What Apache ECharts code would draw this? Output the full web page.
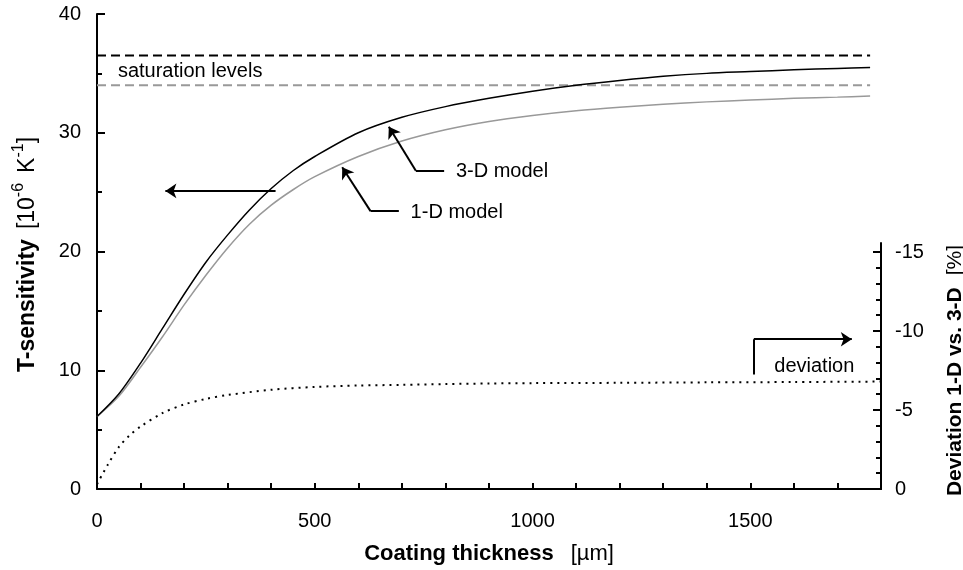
<!DOCTYPE html>
<html><head><meta charset="utf-8">
<script src="https://cdn.jsdelivr.net/npm/echarts@6/dist/echarts.min.js"></script>
<style>html,body{margin:0;padding:0;background:#fff}#c{width:963px;height:570px}</style>
</head><body><div id="c"></div>
<script>
// ---- data ----
const thickness = [0,50,100,150,200,250,300,350,400,450,500,600,700,800,900,1000,1100,1200,1300,1400,1500,1600,1700,1775];
const model3D   = [6.1,8.0,10.6,13.5,16.4,19.1,21.4,23.5,25.3,26.8,28.0,30.0,31.3,32.2,32.9,33.5,34.0,34.4,34.75,35.0,35.15,35.3,35.42,35.5];
const model1D   = [6.1,7.8,10.25,12.8,15.5,18.0,20.3,22.3,23.9,25.2,26.3,28.0,29.3,30.25,30.95,31.45,31.85,32.15,32.4,32.6,32.75,32.9,33.0,33.1];
const devThickness = [0,25,50,75,100,150,200,250,300,400,500,600,700,800,900,1000,1200,1400,1600,1800];
const deviation    = [-0.3,-1.55,-2.65,-3.4,-3.95,-4.8,-5.35,-5.7,-5.95,-6.28,-6.46,-6.55,-6.59,-6.64,-6.68,-6.7,-6.72,-6.75,-6.77,-6.8];
const saturationX  = [0, 1775];
const saturation3D = 36.5;
const saturation1D = 34.0;
const xTickLabels  = [0, 500, 1000, 1500];
const yLeftTicks   = [0, 10, 20, 30, 40];
const yRightTicks  = [0, -5, -10, -15];

// annotation anchors (data coordinates)
const leftArrow   = [[410, 25.1], [157, 25.1]];
const arrow3D     = [[797, 26.8], [732, 26.8], [670, 30.5]];
const arrow1D     = [[693, 23.4], [628, 23.4], [563, 27.1]];
const devArrow    = [[1508, -7.25], [1508, -9.48], [1733, -9.48]];
const label3D     = [824, 26.72];
const label1D     = [720, 23.27];
const labelSat    = [48, 35.14];
const labelDev    = [1555, -7.74];

const FONT = 'Liberation Sans, Arial, sans-serif';
const BLACK = '#000';
const GRAY = '#999';

function pairs(xs, ys) { return xs.map((x, i) => [x, ys[i]]); }
function textPoint(coord, text) {
  return { coord: coord, symbol: 'circle', symbolSize: 0,
    label: { show: true, position: 'right', distance: 0, formatter: text, color: BLACK, fontSize: 20, fontFamily: FONT } };
}
function seg(a, b, arrow) {
  return [{ coord: a, symbol: 'none' }, { coord: b, symbol: arrow ? 'arrow' : 'none' }];
}
const mlBase = { silent: true, symbolSize: 11, label: { show: false },
  lineStyle: { color: BLACK, width: 2, type: 'solid' }, emphasis: { disabled: true } };
const gridBase = { left: 97, right: 82, bottom: 81, containLabel: false, outerBoundsMode: 'none' };
const lineAxis = { show: true, onZero: false, lineStyle: { color: BLACK, width: 2 } };

const chart = echarts.init(document.getElementById('c'), null, { renderer: 'canvas' });
chart.setOption({
  animation: false,
  backgroundColor: '#fff',
  textStyle: { fontFamily: FONT, color: BLACK },
  grid: [
    Object.assign({ top: 14 }, gridBase),
    Object.assign({ top: 243 }, gridBase),
    Object.assign({ top: 252 }, gridBase)
  ],
  xAxis: [
    { gridIndex: 0, type: 'value', min: 0, max: 1800, interval: 100, position: 'bottom',
      axisLine: lineAxis,
      axisTick: { show: true, inside: true, length: 6, lineStyle: { color: BLACK, width: 2 } },
      axisLabel: { margin: 22, fontSize: 20, color: BLACK, fontFamily: FONT,
        formatter: v => xTickLabels.includes(v) ? String(v) : '' },
      splitLine: { show: false },
      name: '{b|Coating thickness}{n|[\u00b5m]}', nameLocation: 'middle', nameGap: 54,
      nameTextStyle: { rich: {
        b: { fontSize: 22, fontWeight: 'bold', color: BLACK, fontFamily: FONT },
        n: { fontSize: 22, color: BLACK, fontFamily: FONT, padding: [0, 0, 0, 17] } } }
    },
    { gridIndex: 1, type: 'value', min: 0, max: 1800, show: false, axisLine: { onZero: false } },
    { gridIndex: 2, type: 'value', min: 0, max: 1800, show: false, axisLine: { onZero: false } }
  ],
  yAxis: [
    { gridIndex: 0, type: 'value', min: 0, max: 40, interval: 10, position: 'left',
      axisLine: lineAxis,
      axisTick: { show: true, inside: true, length: 8, lineStyle: { color: BLACK, width: 2 } },
      minorTick: { show: true, splitNumber: 2, length: 5, lineStyle: { color: BLACK, width: 2 } },
      axisLabel: { margin: 16, fontSize: 20, color: BLACK, fontFamily: FONT,
        formatter: v => yLeftTicks.includes(v) ? String(v) : '' },
      splitLine: { show: false }, minorSplitLine: { show: false },
      name: '{b|T-sensitivity}{g|[10}{s|-6}{k|K}{s|-1}{n|]}', nameLocation: 'middle', nameGap: 58,
      nameTextStyle: { rich: {
        b: { fontSize: 23, fontWeight: 'bold', color: BLACK, fontFamily: FONT, lineHeight: 28, verticalAlign: 'bottom' },
        g: { fontSize: 23, color: BLACK, fontFamily: FONT, lineHeight: 28, verticalAlign: 'bottom', padding: [0, 0, 0, 10] },
        k: { fontSize: 23, color: BLACK, fontFamily: FONT, lineHeight: 28, verticalAlign: 'bottom', padding: [0, 0, 0, 10] },
        n: { fontSize: 23, color: BLACK, fontFamily: FONT, lineHeight: 28, verticalAlign: 'bottom', padding: [0, 6, 0, 0] },
        s: { fontSize: 16, color: BLACK, fontFamily: FONT, lineHeight: 28, verticalAlign: 'top' } } }
    },
    { gridIndex: 1, type: 'value', min: 0, max: 1, position: 'right',
      axisLine: lineAxis,
      axisTick: { show: false }, axisLabel: { show: false }, splitLine: { show: false } },
    { gridIndex: 2, type: 'value', min: -15, max: 0, interval: 5, inverse: true, position: 'right',
      axisLine: lineAxis,
      axisTick: { show: true, inside: true, length: 8, lineStyle: { color: BLACK, width: 2 } },
      minorTick: { show: true, splitNumber: 5, length: 5, lineStyle: { color: BLACK, width: 2 } },
      axisLabel: { margin: 14, fontSize: 20, color: BLACK, fontFamily: FONT,
        formatter: v => yRightTicks.includes(v) ? String(v) : '' },
      splitLine: { show: false }, minorSplitLine: { show: false },
      name: '{b|Deviation 1-D vs. 3-D}{n|[%]}', nameLocation: 'middle', nameGap: 64,
      nameTextStyle: { rich: {
        b: { fontSize: 21, fontWeight: 'bold', color: BLACK, fontFamily: FONT },
        n: { fontSize: 21, color: BLACK, fontFamily: FONT, padding: [0, 0, 0, 12] } } }
    }
  ],
  series: [
    { name: 'saturation 3-D', type: 'line', xAxisIndex: 0, yAxisIndex: 0, showSymbol: false, silent: true,
      data: saturationX.map(x => [x, saturation3D]),
      lineStyle: { color: BLACK, width: 2, type: [9, 5] } },
    { name: 'saturation 1-D', type: 'line', xAxisIndex: 0, yAxisIndex: 0, showSymbol: false, silent: true,
      data: saturationX.map(x => [x, saturation1D]),
      lineStyle: { color: GRAY, width: 2, type: [9, 5] },
      markPoint: { silent: true, data: [ textPoint(labelSat, 'saturation levels') ] } },
    { name: '1-D model', type: 'line', xAxisIndex: 0, yAxisIndex: 0, showSymbol: false, silent: true,
      smooth: 0.3, data: pairs(thickness, model1D),
      lineStyle: { color: GRAY, width: 1.5 },
      markLine: Object.assign({}, mlBase, { data: [ seg(arrow1D[0], arrow1D[1]), seg(arrow1D[1], arrow1D[2], true) ] }),
      markPoint: { silent: true, data: [ textPoint(label1D, '1-D model') ] } },
    { name: '3-D model', type: 'line', xAxisIndex: 0, yAxisIndex: 0, showSymbol: false, silent: true,
      smooth: 0.3, data: pairs(thickness, model3D),
      lineStyle: { color: BLACK, width: 1.5 },
      markLine: Object.assign({}, mlBase, { data: [
        seg(arrow3D[0], arrow3D[1]), seg(arrow3D[1], arrow3D[2], true), seg(leftArrow[0], leftArrow[1], true) ] }),
      markPoint: { silent: true, data: [ textPoint(label3D, '3-D model') ] } },
    { name: 'deviation', type: 'line', xAxisIndex: 2, yAxisIndex: 2, showSymbol: false, silent: true,
      smooth: 0.3, data: pairs(devThickness, deviation),
      lineStyle: { color: BLACK, width: 2, type: [2, 5] },
      markLine: Object.assign({}, mlBase, { data: [ seg(devArrow[0], devArrow[1]), seg(devArrow[1], devArrow[2], true) ] }),
      markPoint: { silent: true, data: [ textPoint(labelDev, 'deviation') ] } }
  ]
});
</script></body></html>
